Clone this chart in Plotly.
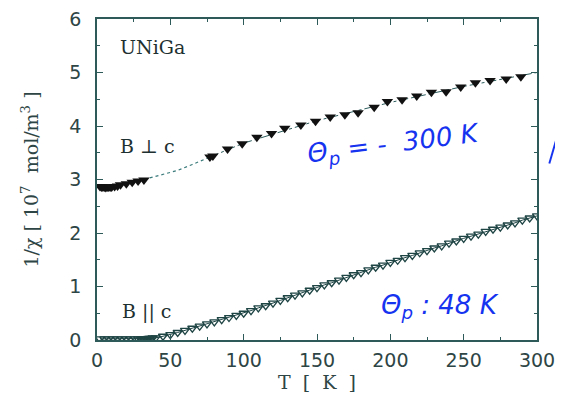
import plotly.graph_objects as go

# B perpendicular c (filled down-triangles)
perp_low_T = [2, 3, 4, 5, 6, 7, 8, 9, 10, 12, 14, 16, 20, 24, 28, 32]
perp_low_v = [2.87, 2.86, 2.86, 2.86, 2.85, 2.86, 2.86, 2.86, 2.86, 2.87, 2.88, 2.90, 2.92, 2.95, 2.97, 2.99]
perp_high_T = [77, 79, 89, 99, 109, 119, 128, 139, 149, 159, 169, 178, 189, 198, 208, 218, 228, 238, 248, 258, 268, 279, 289]
perp_high_v = [3.42, 3.44, 3.57, 3.67, 3.79, 3.86, 3.96, 4.02, 4.09, 4.17, 4.21, 4.25, 4.35, 4.46, 4.49, 4.56, 4.63, 4.64, 4.73, 4.81, 4.85, 4.88, 4.92]
# guide lines through the perpendicular data
perp_gap_T = [32, 45, 55, 65, 77]
perp_gap_v = [3.00, 3.09, 3.17, 3.28, 3.42]
perp_fit_T = [77, 100, 150, 200, 250, 300]
perp_fit_v = [3.42, 3.68, 4.10, 4.44, 4.74, 5.00]

# B parallel c (open down-triangles)
par_T = [2, 5, 8, 11, 14, 17, 20, 23, 26, 28, 30, 31, 32, 33, 34, 35, 36, 37, 38,
         40, 45, 50, 55, 60, 65, 70, 75, 80, 85, 90, 95, 100, 105, 110, 115, 120,
         125, 130, 135, 140, 145, 150, 155, 160, 165, 170, 175, 180, 185, 190, 195,
         200, 205, 210, 215, 220, 225, 230, 235, 240, 245, 250, 255, 260, 265, 270,
         275, 280, 285, 290, 295, 300]
par_v = [0.02, 0.02, 0.02, 0.02, 0.02, 0.02, 0.02, 0.02, 0.02, 0.02, 0.02, 0.02, 0.02, 0.02, 0.02, 0.03, 0.03, 0.03, 0.04,
         0.04, 0.07, 0.10, 0.14, 0.18, 0.22, 0.26, 0.30, 0.34, 0.38, 0.42, 0.46, 0.50, 0.55, 0.60, 0.64, 0.69,
         0.74, 0.79, 0.84, 0.88, 0.93, 0.98, 1.03, 1.07, 1.12, 1.17, 1.22, 1.26, 1.31, 1.36, 1.40,
         1.45, 1.49, 1.54, 1.58, 1.63, 1.67, 1.72, 1.76, 1.81, 1.85, 1.90, 1.94, 1.98, 2.03, 2.07,
         2.11, 2.15, 2.19, 2.24, 2.28, 2.32]

x_ticks = [0, 50, 100, 150, 200, 250, 300]
y_ticks = [0, 1, 2, 3, 4, 5, 6]

axis_col = "#2f5a5a"
text_col = "#2e4545"
blue = "#1633f0"

fig = go.Figure()
fig.add_trace(go.Scatter(x=perp_gap_T, y=perp_gap_v, mode="lines",
                         line=dict(color="#3a7a7a", width=1.2, dash="dot"), showlegend=False))
fig.add_trace(go.Scatter(x=perp_fit_T, y=perp_fit_v, mode="lines",
                         line=dict(color="#2a5a5a", width=1, dash="dashdot"), showlegend=False))
fig.add_trace(go.Scatter(x=perp_low_T, y=perp_low_v, mode="markers",
                         marker=dict(symbol="triangle-down", size=10, color="#111111"), showlegend=False))
fig.add_trace(go.Scatter(x=perp_high_T, y=perp_high_v, mode="markers",
                         marker=dict(symbol="triangle-down", size=10, color="#111111"), showlegend=False))
fig.add_trace(go.Scatter(x=par_T, y=par_v, mode="lines+markers",
                         line=dict(color="#1f4444", width=1),
                         marker=dict(symbol="triangle-down-open", size=8, color="#1f4444",
                                     line=dict(width=1.3, color="#1f4444")),
                         showlegend=False))

tickfont = dict(family="DejaVu Sans", size=19, color=text_col)
titlefont = dict(family="DejaVu Serif", size=19, color=text_col)

fig.update_xaxes(range=[0, 300], tickvals=x_ticks, ticktext=[str(t) for t in x_ticks],
                 ticks="inside", ticklen=6, tickcolor=axis_col,
                 minor=dict(ticks="inside", ticklen=3, dtick=25, tickcolor=axis_col),
                 showline=True, linecolor=axis_col, linewidth=1.5, mirror="ticks",
                 showgrid=False, zeroline=False, tickfont=tickfont, ticklabelstandoff=2,
                 automargin=False, ticklabeloverflow="allow",
                 title=dict(text="T  [  K  ]", font=titlefont, standoff=6))
fig.update_yaxes(range=[0, 6], tickvals=y_ticks, ticktext=[str(t) for t in y_ticks],
                 ticks="inside", ticklen=6, tickcolor=axis_col,
                 minor=dict(ticks="inside", ticklen=3, dtick=0.5, tickcolor=axis_col),
                 showline=True, linecolor=axis_col, linewidth=1.5, mirror="ticks",
                 showgrid=False, zeroline=False, tickfont=tickfont, ticklabelstandoff=10,
                 automargin=False, ticklabeloverflow="allow",
                 title=dict(text="1/χ [ 10<sup>7</sup>  mol/m<sup>3</sup> ]", font=titlefont, standoff=26))

serif = dict(family="DejaVu Serif", size=19, color="#1e3030")
hand = dict(family="DejaVu Sans", size=26, color=blue)
fig.add_annotation(x=14, y=5.47, text="UNiGa", showarrow=False, xanchor="left", font=serif)
fig.add_annotation(x=14, y=3.62, text="B ⊥ c", showarrow=False, xanchor="left", font=serif)
fig.add_annotation(x=16, y=0.54, text="B || c", showarrow=False, xanchor="left", font=serif)
fig.add_annotation(x=202, y=3.65, text="<i>Θ<sub>p</sub> = -  300 K</i>", showarrow=False,
                   textangle=-7, font=hand)
fig.add_annotation(x=234, y=0.62, text="<i>Θ<sub>p</sub> : 48 K</i>", showarrow=False, font=hand)
fig.add_shape(type="line", xref="paper", yref="paper", x0=1.028, y0=0.55, x1=1.044, y1=0.625,
              line=dict(color=blue, width=2))

# page body adds an 8 px offset; shrink the figure so the plot lands where the reference has it
fig.update_layout(width=555, height=398, margin=dict(l=89, r=26, t=11, b=66),
                  paper_bgcolor="white", plot_bgcolor="white")
fig.write_html("out.html")
